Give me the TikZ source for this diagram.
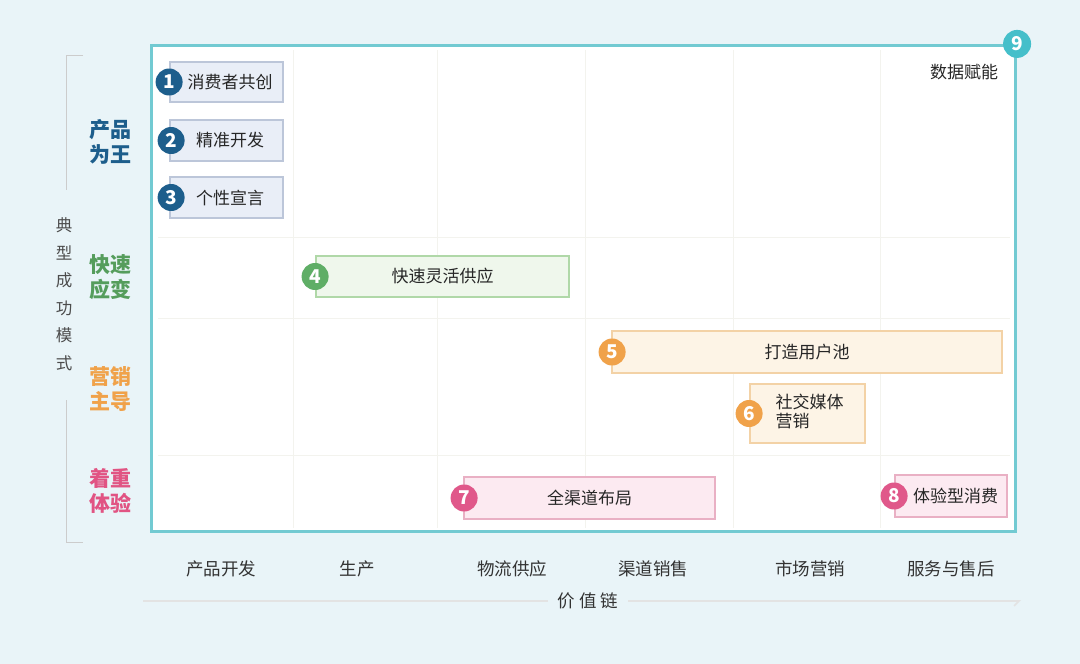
\documentclass[tikz,border=0pt]{standalone}
\usepackage{fontspec}
\setmainfont{Noto Sans CJK SC}
\usepackage{xcolor}
\usetikzlibrary{arrows.meta}
\definecolor{bgblue}{HTML}{E9F4F8}
\definecolor{frameteal}{HTML}{72CAD2}
\definecolor{gridline}{HTML}{F3F3EE}
\definecolor{bluedark}{HTML}{1D5E8C}
\definecolor{bluefill}{HTML}{E9EEF7}
\definecolor{blueline}{HTML}{BCC6D9}
\definecolor{greendark}{HTML}{5FAE66}
\definecolor{greenfill}{HTML}{EFF7EC}
\definecolor{greenline}{HTML}{B0D8A8}
\definecolor{orangedark}{HTML}{F0A24A}
\definecolor{orangefill}{HTML}{FDF4E6}
\definecolor{orangeline}{HTML}{F3D2A6}
\definecolor{pinkdark}{HTML}{E0588A}
\definecolor{pinkfill}{HTML}{FCEAF1}
\definecolor{pinkline}{HTML}{E9B0C4}
\definecolor{tealdark}{HTML}{45BFCA}
\tikzstyle{box} = [rectangle, 
line width=1.8pt, 
inner sep=0pt,
text=black!85, 
font=\fontsize{17}{21}\selectfont]
\tikzstyle{bluebox} = [box, draw=blueline, fill=bluefill]
\tikzstyle{greenbox} = [box, draw=greenline, fill=greenfill]
\tikzstyle{orangebox} = [box, draw=orangeline, fill=orangefill]
\tikzstyle{pinkbox} = [box, draw=pinkline, fill=pinkfill]
\tikzstyle{badge} = [circle, 
minimum size=27pt, 
inner sep=0pt, 
text=white, 
font=\fontsize{19}{19}\selectfont\bfseries]
\tikzstyle{rowlabel} = [align=center, 
font=\fontsize{21}{25}\selectfont\bfseries]
\tikzstyle{chainlabel} = [text=black!80, font=\fontsize{17.5}{20}\selectfont]
\tikzstyle{bracket} = [draw=black!20, line width=1pt]
\tikzstyle{chainline} = [draw=black!11, line width=1.6pt]

\begin{document}
\begin{tikzpicture}[x=1pt, y=-1pt]
\useasboundingbox (0,0) rectangle (1080,664);
\fill [bgblue] (0,0) rectangle (1080,664);

% frame and grid
\node (frame) [draw=frameteal, line width=3.2pt, fill=white, inner sep=0pt,
  minimum width=864pt, minimum height=486pt] at (583.5,288.5) {};
\foreach \x in {293,437,585,733,880}
  \draw [gridline, line width=1pt] (\x,50) -- (\x,528);
\foreach \y in {237,318,455}
  \draw [gridline, line width=1pt] (158,\y) -- (1010,\y);

% boxes
\node (b1) [bluebox, minimum width=113pt, minimum height=40pt] at (226.5,82) {\hspace{7pt}消费者共创};
\node (b2) [bluebox, minimum width=113pt, minimum height=41pt] at (226.5,140.5) {\hspace{7pt}精准开发};
\node (b3) [bluebox, minimum width=113pt, minimum height=41pt] at (226.5,197.5) {\hspace{7pt}个性宣言};
\node (b4) [greenbox, minimum width=253pt, minimum height=41pt] at (442.5,276.5) {快速灵活供应};
\node (b5) [orangebox, minimum width=390pt, minimum height=42pt] at (807,352) {打造用户池};
\node (b6) [orangebox, minimum width=115pt, minimum height=59pt, align=left] at (807.5,413.5) {\hspace{4pt}\begin{tabular}{@{}l@{}}社交媒体\\[-2pt]营销\end{tabular}};
\node (b7) [pinkbox, minimum width=251pt, minimum height=42pt] at (589.5,498) {全渠道布局};
\node (b8) [pinkbox, minimum width=112pt, minimum height=42pt] at (951,496) {\hspace{9pt}体验型消费};

% badges
\node (n1) [badge, fill=bluedark] at (b1.west) {1};
\node (n2) [badge, fill=bluedark, xshift=2pt] at (b2.west) {2};
\node (n3) [badge, fill=bluedark, xshift=2pt] at (b3.west) {3};
\node (n4) [badge, fill=greendark] at (b4.west) {4};
\node (n5) [badge, fill=orangedark, xshift=1pt] at (b5.west) {5};
\node (n6) [badge, fill=orangedark] at (b6.west) {6};
\node (n7) [badge, fill=pinkdark, xshift=1pt] at (b7.west) {7};
\node (n8) [badge, fill=pinkdark] at (b8.west) {8};
\node (n9) [badge, fill=tealdark, minimum size=28pt] at (frame.north east) {9};
\node (data) [text=black!85, font=\fontsize{17}{20}\selectfont] at (964,72) {数据赋能};

% left side
\node (r1) [rowlabel, text=bluedark] at (110,142) {产品\\为王};
\node (r2) [rowlabel, text=greendark!90!black] at (110,277) {快速\\应变};
\node (r3) [rowlabel, text=orangedark] at (110,389) {营销\\主导};
\node (r4) [rowlabel, text=pinkdark!95!red] at (110,491) {着重\\体验};
\node (side) [align=center, text=black!70, font=\fontsize{16.5}{27.5}\selectfont] at (64,294) {典\\型\\成\\功\\模\\式};
\draw [bracket] (83,55) -- (66,55) -- (66,190);
\draw [bracket] (66,400) -- (66,542) -- (83,542);

% value chain
\node (c1) [chainlabel] at (221,569) {产品开发};
\node (c2) [chainlabel] at (357,569) {生产};
\node (c3) [chainlabel] at (512,569) {物流供应};
\node (c4) [chainlabel] at (653,569) {渠道销售};
\node (c5) [chainlabel] at (810,569) {市场营销};
\node (c6) [chainlabel] at (951,569) {服务与售后};
\coordinate (vl) at (143,601);
\coordinate (vr) at (1021,601);
\node (vc) [chainlabel, inner xsep=10pt] at (588,601) {价\hspace{4pt}值\hspace{4pt}链};
\draw [chainline] (vl) -- (vc);
\draw [chainline, -{Straight Barb[harpoon, swap, length=5pt, width=10pt]}] (vc) -- (vr);

\end{tikzpicture}
\end{document}
